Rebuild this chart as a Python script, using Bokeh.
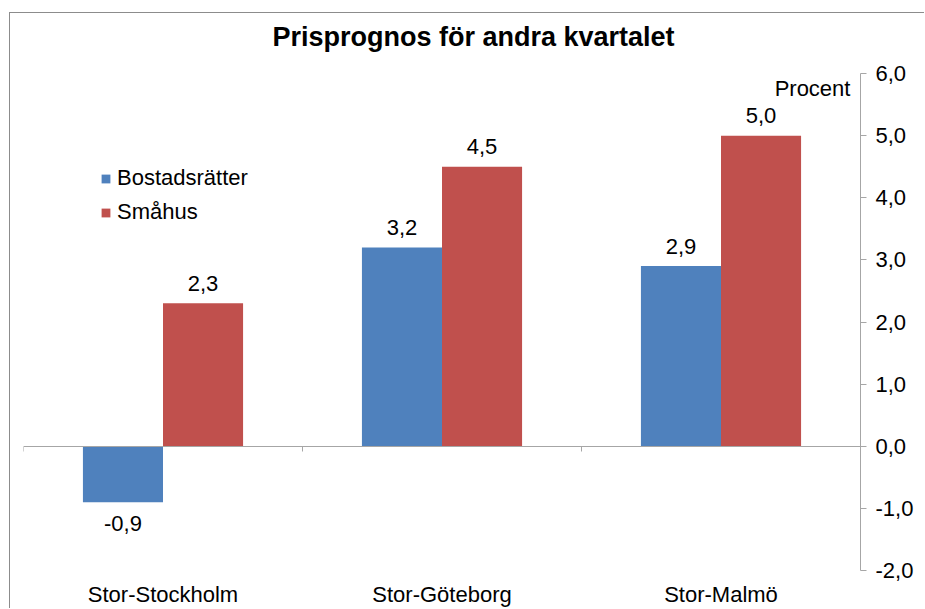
from bokeh.plotting import figure
from bokeh.models import (ColumnDataSource, Range1d, LinearAxis,
                          FixedTicker, CustomJSTickFormatter, Legend, LegendItem, Label)
from bokeh.embed import file_html
from bokeh.resources import INLINE
from bokeh.core.properties import value

# ---- data ----
categories = ["Stor-Stockholm", "Stor-Göteborg", "Stor-Malmö"]
bostadsratter = [-0.9, 3.2, 2.9]
smahus = [2.3, 4.5, 5.0]
series_names = ["Bostadsrätter", "Småhus"]
y_ticks = [-2, -1, 0, 1, 2, 3, 4, 5, 6]
title_text = "Prisprognos för andra kvartalet"
unit_text = "Procent"

FONT = "Liberation Sans"
BLUE = "#4F81BD"
RED = "#C0504D"
AXIS_GRAY = "#A6A6A6"
BAR_W = 0.287
FS = "22px"
Y_TOP = 6.966   # frame extends up to the top edge so the title sits inside it


def fmt(v):
    return f"{v:.1f}".replace(".", ",")


def offs(vals):
    return [-20 if v >= 0 else 21 for v in vals]


n = len(categories)
centers = [i + 0.5 for i in range(n)]

src = ColumnDataSource(dict(
    xb=[c - BAR_W / 2 for c in centers], xs=[c + BAR_W / 2 for c in centers],
    b=bostadsratter, s=smahus,
    b_lab=[fmt(v) for v in bostadsratter], s_lab=[fmt(v) for v in smahus],
    b_off=offs(bostadsratter), s_off=offs(smahus),
))

p = figure(width=915, height=596,
           x_range=Range1d(0, n), y_range=Range1d(y_ticks[0], Y_TOP),
           output_backend="svg", toolbar_location=None, y_axis_location="right",
           x_axis_location=None,
           min_border_left=13, min_border_right=65, min_border_top=0, min_border_bottom=37)
p.styles = {"margin-left": "9px", "margin-top": "12px",
            "border-left": "1px solid #8c8c8c", "border-top": "1px solid #8c8c8c"}
p.outline_line_color = None
p.xgrid.visible = False
p.ygrid.visible = False
p.background_fill_color = "white"
p.border_fill_color = "white"

rb = p.vbar(x="xb", top="b", bottom=0, width=BAR_W, source=src, fill_color=BLUE, line_color=None)
rs = p.vbar(x="xs", top="s", bottom=0, width=BAR_W, source=src, fill_color=RED, line_color=None)

for xcol, col, lab, off in (("xb", "b", "b_lab", "b_off"), ("xs", "s", "s_lab", "s_off")):
    p.text(x=xcol, y=col, text=lab, y_offset=off, source=src,
           text_align="center", text_baseline="alphabetic",
           text_font=value(FONT), text_font_size=value(FS), text_color="black")

# right value axis
ya = p.yaxis[0]
ya.ticker = FixedTicker(ticks=y_ticks)
ya.bounds = (y_ticks[0], y_ticks[-1])
ya.formatter = CustomJSTickFormatter(code="return tick.toFixed(1).replace('.', ',')")
ya.major_label_text_font = FONT
ya.major_label_text_font_size = FS
ya.major_label_text_color = "black"
ya.major_label_standoff = 9
ya.major_tick_out = 6
ya.major_tick_in = 0
ya.minor_tick_out = 0
ya.minor_tick_in = 0
ya.axis_line_color = AXIS_GRAY
ya.major_tick_line_color = AXIS_GRAY

# category labels at bottom
xa = LinearAxis(ticker=FixedTicker(ticks=centers),
                major_label_overrides={c: name for c, name in zip(centers, categories)},
                axis_line_color=None, major_tick_line_color=None,
                major_tick_out=0, major_tick_in=0, minor_tick_out=0, minor_tick_in=0,
                major_label_standoff=11, major_label_text_font=FONT,
                major_label_text_font_size=FS, major_label_text_color="black")
p.add_layout(xa, "below")

# category axis line crossing at zero, with ticks at category boundaries
zero_axis = LinearAxis(fixed_location=0,
                       ticker=FixedTicker(ticks=list(range(n + 1))),
                       axis_line_color=AXIS_GRAY, major_tick_line_color=AXIS_GRAY,
                       major_tick_out=5, major_tick_in=0, minor_tick_out=0, minor_tick_in=0,
                       major_label_text_alpha=0, major_label_text_font_size="1px",
                       major_label_standoff=0)
p.add_layout(zero_axis, "below")

# title and unit label
p.add_layout(Label(x=1.613, y=6.582, text=title_text, text_align="center",
                   text_baseline="alphabetic", text_font=FONT, text_font_size="27px",
                   text_font_style="bold", text_color="black"))
p.add_layout(Label(x=2.964, y=5.753, text=unit_text, text_align="right",
                   text_baseline="alphabetic", text_font=FONT, text_font_size=FS,
                   text_color="black"))

legend = Legend(items=[LegendItem(label=series_names[0], renderers=[rb]),
                       LegendItem(label=series_names[1], renderers=[rs])],
                location=(77, 345), orientation="vertical",
                padding=0, margin=0, spacing=8,
                glyph_width=11, glyph_height=11, label_height=25, label_standoff=6,
                label_text_font=FONT, label_text_font_size=FS, label_text_color="black",
                border_line_color=None, background_fill_alpha=0)
p.add_layout(legend)

open("out.html", "w").write(file_html(p, INLINE))
